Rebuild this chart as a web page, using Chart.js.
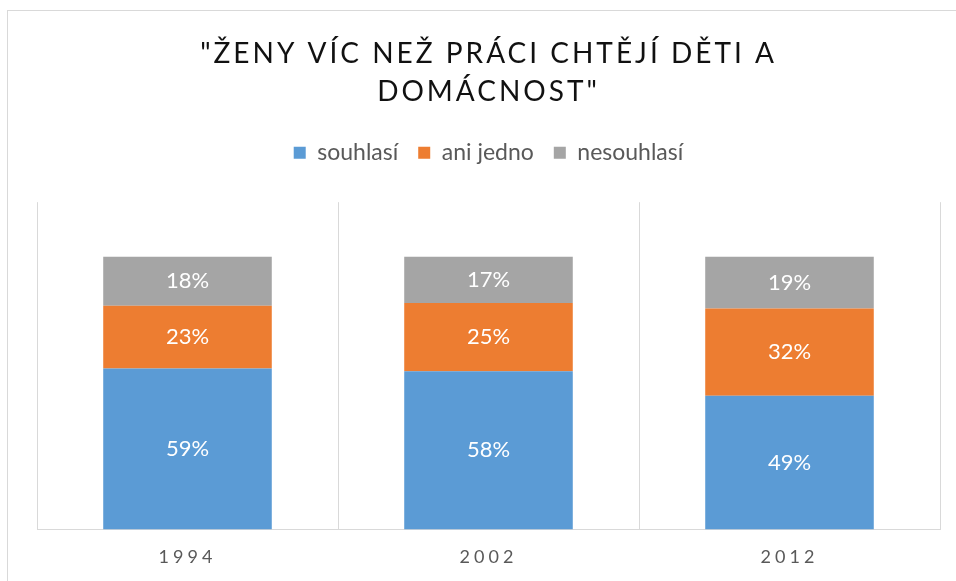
<!DOCTYPE html>
<html>
<head>
<meta charset="utf-8">
<script src="https://cdn.jsdelivr.net/npm/chart.js@4"></script>
<style>
   body { margin: 0; background: #fff; }
   #frame { position: absolute; left: 7px; top: 10px; width: 980px; height: 600px; border: 1px solid #d9d9d9; }
   #wrap { position: absolute; left: 0; top: 0; width: 956px; height: 581px; }
</style>
</head>
<body>
<div id="frame"></div>
<div id="wrap"><canvas id="chartCanvas"></canvas></div>
<script>

const years = ["1994", "2002", "2012"];
const souhlasi = [59, 58, 49];
const aniJedno = [23, 25, 32];
const nesouhlasi = [18, 17, 19];
const titleLines = ["\"ŽENY VÍC NEŽ PRÁCI CHTĚJÍ DĚTI A", "DOMÁCNOST\""];

/* letter spacing for title and x labels (canvas ctx.letterSpacing) */
const origTitleDraw = Chart.Title._element.prototype.draw;
Chart.Title._element.prototype.draw = function() {
   this.ctx.save();
   this.ctx.letterSpacing = "3px";
   origTitleDraw.apply(this, arguments);
   this.ctx.restore();
};

const spacedTicks = {
   id: "spacedTicks",
   beforeDraw(chart) {
      let sc = chart.scales.x;
      if (sc._spaced)
         return;
      let orig = sc.drawLabels;
      sc.drawLabels = function(area) {
         this.ctx.save();
         this.ctx.letterSpacing = "4px";
         orig.call(this, area);
         this.ctx.restore();
      };
      sc._spaced = true;
   }
};

/* extra room under the legend */
const legendGap = {
   id: "legendGap",
   afterInit(chart) {
      let lg = chart.legend;
      let fit = lg.fit;
      lg.fit = function() {
         fit.call(this);
         this.height += 28;
      };
   }
};

/* values written inside each segment */
const segLabels = {
   id: "segLabels",
   afterDatasetsDraw(chart) {
      let ctx = chart.ctx;
      ctx.save();
      ctx.fillStyle = "#ffffff";
      ctx.font = "22px Lato";
      ctx.textAlign = "center";
      ctx.textBaseline = "middle";
      chart.data.datasets.forEach((ds, i) => {
         chart.getDatasetMeta(i).data.forEach((bar, j) => {
            let mid = (bar.y + bar.base) / 2;
            ctx.fillText(ds.data[j] + "%", bar.x, mid);
         });
      });
      ctx.restore();
   }
};

let ctx = document.getElementById("chartCanvas");
let chart = new Chart(ctx, {
   type: "bar",
   data: {
      labels: years,
      datasets: [
         { label: "souhlasí", data: souhlasi, backgroundColor: "#5B9BD5" },
         { label: "ani jedno", data: aniJedno, backgroundColor: "#ED7D31" },
         { label: "nesouhlasí", data: nesouhlasi, backgroundColor: "#A5A5A5" }
      ]
   },
   options: {
      responsive: true,
      maintainAspectRatio: false,
      animation: false,
      categoryPercentage: 1,
      barPercentage: 0.56,
      layout: { padding: { left: 37, right: 16, top: 35, bottom: -4 } },
      scales: {
         x: {
            stacked: true,
            grid: { color: "#d9d9d9", offset: true, drawTicks: false },
            border: { color: "#d9d9d9", width: 1 },
            ticks: { color: "#595959", font: { family: "Lato", size: 18 }, padding: 17 }
         },
         y: {
            stacked: true,
            display: false,
            min: 0,
            max: 120
         }
      },
      plugins: {
         title: {
            display: true,
            text: titleLines,
            color: "#111111",
            font: { family: "Lato", size: 28, weight: "400", lineHeight: 1.36 },
            padding: { top: 0, bottom: 10 }
         },
         legend: {
            display: true,
            labels: {
               color: "#595959",
               font: { family: "Lato", size: 23 },
               boxWidth: 12,
               boxHeight: 12,
               padding: 20
            }
         },
         tooltip: { enabled: false }
      }
   },
   plugins: [spacedTicks, legendGap, segLabels]
});
</script>
</body>
</html>
